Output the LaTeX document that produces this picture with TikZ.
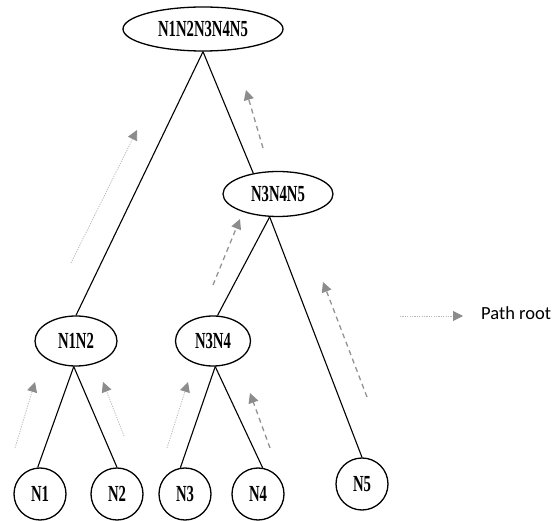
\documentclass[tikz,border=0pt]{standalone}
\usepackage{fontspec}
\newfontfamily\labfont[FakeStretch=0.64]{Liberation Serif}
\newfontfamily\legfont{Carlito}
\usetikzlibrary{arrows.meta,shapes.geometric}
\begin{document}
\begin{tikzpicture}[x=1pt,y=-1pt,
  lab/.style={font=\labfont\bfseries\fontsize{23}{23}\selectfont},
  ell/.style={ellipse,draw=black,line width=1.3pt,inner sep=0pt,lab},
  leaf/.style={circle,draw=black,line width=1.3pt,inner sep=0pt,minimum size=52pt,lab},
  edge/.style={draw=black,line width=1.1pt},
  dotarrow/.style={draw=gray!55,line width=0.8pt,dash pattern=on 1.2pt off 1.2pt,
    -{Triangle[length=10pt,width=10pt,color=gray!90,fill=gray!90]}},
  dasharrow/.style={draw=gray!85,line width=1.3pt,dash pattern=on 5pt off 4pt,
    -{Triangle[length=10pt,width=10pt,color=gray!90,fill=gray!90]}}]
\useasboundingbox (0,0) rectangle (552,521);

\node[ell,minimum width=160pt,minimum height=44pt] (top) at (203,29) {N1N2N3N4N5};
\node[ell,minimum width=110pt,minimum height=45pt] (n345) at (278,194) {N3N4N5};
\node[ell,minimum width=82pt,minimum height=50pt] (n12) at (76,341) {N1N2};
\node[ell,minimum width=75pt,minimum height=50pt] (n34) at (213,341) {N3N4};
\node[leaf] (n1) at (40,494) {N1};
\node[leaf] (n2) at (117,494) {N2};
\node[leaf] (n3) at (185,494) {N3};
\node[leaf] (n4) at (258,494) {N4};
\node[leaf] (n5) at (362,484) {N5};

\draw[edge] (top.south) -- (n12.north);
\draw[edge] (top.south) -- (n345.140);
\draw[edge] (n345.-110) -- (n34.80);
\draw[edge] (n345.-110) -- (n5.north);
\draw[edge] (n12.-95) -- (n1.95);
\draw[edge] (n12.-95) -- (n2.north);
\draw[edge] (n34.-85) -- (n3.100);
\draw[edge] (n34.-85) -- (n4.80);

\coordinate (a1s) at (71,263);  \coordinate (a1e) at (137,130);
\coordinate (a2s) at (263,148); \coordinate (a2e) at (246,90);
\coordinate (a3s) at (213,285); \coordinate (a3e) at (240,219);
\coordinate (a4s) at (367,397); \coordinate (a4e) at (323,282);
\coordinate (a5s) at (15,448);  \coordinate (a5e) at (35,382);
\coordinate (a6s) at (124,436); \coordinate (a6e) at (103,382);
\coordinate (a7s) at (167,448); \coordinate (a7e) at (188,382);
\coordinate (a8s) at (270,448); \coordinate (a8e) at (250,393);
\coordinate (lgs) at (400,316); \coordinate (lge) at (463,316);

\draw[dotarrow] (a1s) -- (a1e);
\draw[dasharrow] (a2s) -- (a2e);
\draw[dasharrow] (a3s) -- (a3e);
\draw[dasharrow] (a4s) -- (a4e);
\draw[dotarrow] (a5s) -- (a5e);
\draw[dotarrow] (a6s) -- (a6e);
\draw[dotarrow] (a7s) -- (a7e);
\draw[dasharrow] (a8s) -- (a8e);
\draw[dotarrow] (lgs) -- (lge);
\node[anchor=west,inner sep=0pt,font=\legfont\fontsize{18.5}{18.5}\selectfont] (leg) at (481,313) {Path root};
\end{tikzpicture}
\end{document}
